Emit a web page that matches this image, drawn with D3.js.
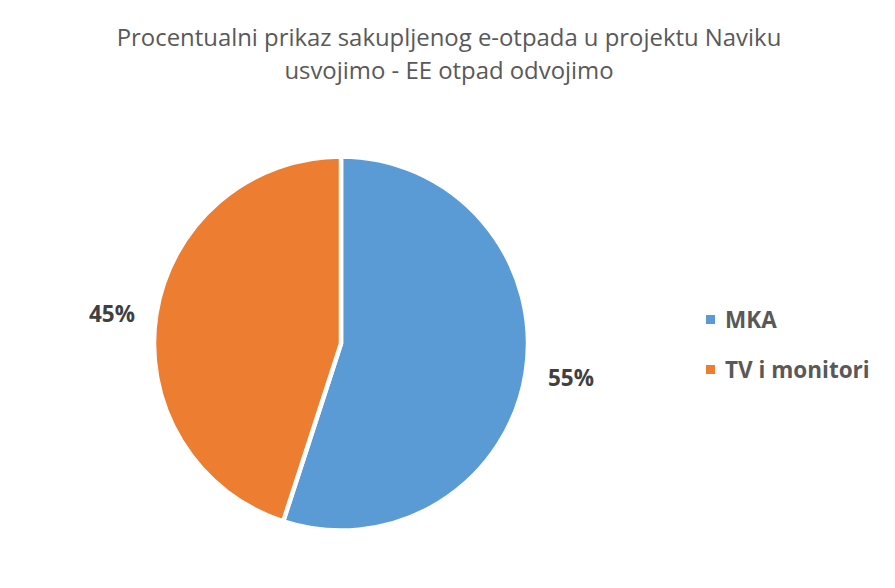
<!DOCTYPE html>
<html><head><meta charset="utf-8">
<script src="https://cdn.jsdelivr.net/npm/d3@7"></script>
<style>body{margin:0;background:#fff;} svg{display:block;font-family:"Open Sans","Liberation Sans",sans-serif;}</style>
</head><body>
<script>
const categories = ["MKA", "TV i monitori"];
const values = [55, 45];
const colors = ["#5B9BD5", "#ED7D31"];
const titleLines = ["Procentualni prikaz sakupljenog e-otpada u projektu Naviku", "usvojimo - EE otpad odvojimo"];

const W = 895, H = 588;
const svg = d3.select("body").append("svg").attr("width", W).attr("height", H);

svg.append("g").selectAll("text").data(titleLines).join("text")
  .attr("x", 449).attr("y", (d, i) => 46 + i * 33)
  .attr("text-anchor", "middle").attr("fill", "#595959")
  .attr("font-size", 23.9).text(d => d);

const cx = 341, cy = 343.5, r = 187;
const pie = d3.pie().sort(null).value(d => d);
const arcs = pie(values);
const arc = d3.arc().innerRadius(0).outerRadius(r);
const g = svg.append("g").attr("transform", `translate(${cx},${cy})`);
g.selectAll("path").data(arcs).join("path")
  .attr("d", arc).attr("fill", (d, i) => colors[i])
  .attr("stroke", "#fff").attr("stroke-width", 4.5).attr("stroke-linejoin", "round");

const labelPos = [[571, 386], [112, 322]];
const total = d3.sum(values);
svg.append("g").selectAll("text").data(arcs).join("text")
  .attr("x", (d, i) => labelPos[i][0]).attr("y", (d, i) => labelPos[i][1])
  .attr("text-anchor", "middle").attr("font-weight", "bold").attr("font-size", 22.5)
  .attr("fill", "#404040").text(d => Math.round(d.value / total * 100) + "%");

const leg = svg.append("g").selectAll("g").data(categories).join("g")
  .attr("transform", (d, i) => `translate(706,${315 + i * 50})`);
leg.append("rect").attr("width", 9).attr("height", 9).attr("fill", (d, i) => colors[i]);
leg.append("text").attr("x", 19).attr("y", 12.5).attr("font-weight", "bold").attr("font-size", 22.5)
  .attr("fill", "#595959").text(d => d);
</script>
</body></html>
